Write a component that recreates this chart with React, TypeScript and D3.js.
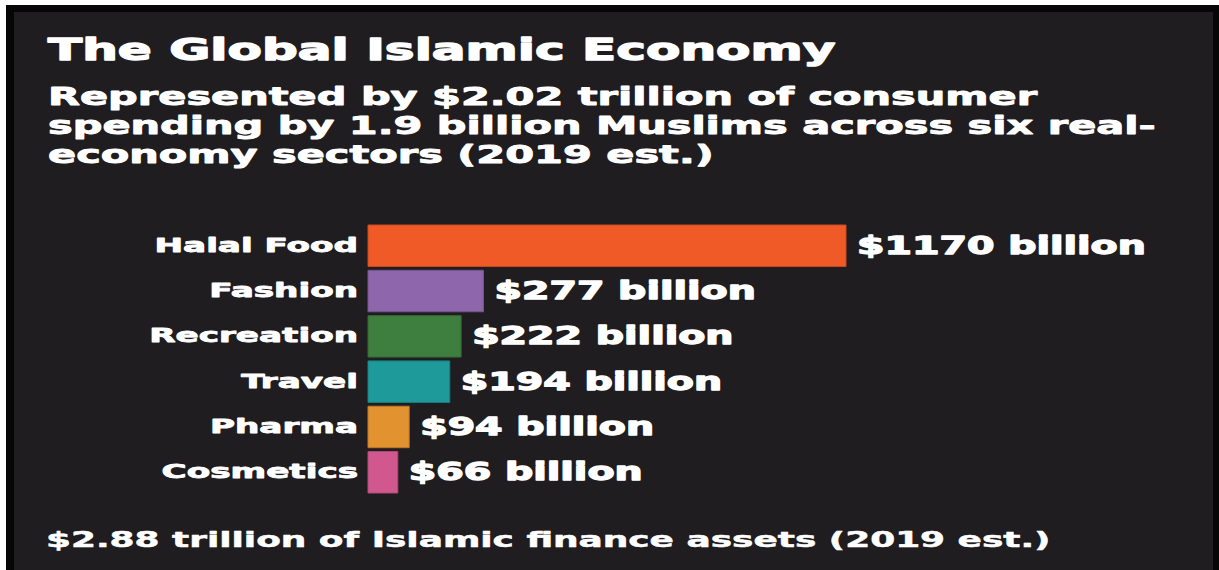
import React from 'react';
import * as d3 from 'd3';

const sectors = ['Halal Food', 'Fashion', 'Recreation', 'Travel', 'Pharma', 'Cosmetics'];
const spendingBillions = [1170, 277, 222, 194, 94, 66];
const sectorColors = ['#f05a27', '#8d66ab', '#3e7e3e', '#1e9a9b', '#e2922f', '#d1588e'];

const titleText = 'The Global Islamic Economy';
const subtitleLines = [
  'Represented by $2.02 trillion of consumer',
  'spending by 1.9 billion Muslims across six real-',
  'economy sectors (2019 est.)',
];
const footerText = '$2.88 trillion of Islamic finance assets (2019 est.)';

const WIDTH = 1219;
const HEIGHT = 570;
const FONT = '"DejaVu Sans", Verdana, sans-serif';
const BG = '#1f1d20';

export default function App() {
  const barLeft = 368;
  const x = d3.scaleLinear().domain([0, 1170]).range([barLeft + 3, 846]);
  const y = d3.scaleBand<string>()
    .domain(sectors)
    .range([225, 493])
    .paddingInner(0.085)
    .paddingOuter(0);

  return (
    <svg
      width={WIDTH}
      height={HEIGHT}
      viewBox={`0 0 ${WIDTH} ${HEIGHT}`}
      style={{ position: 'absolute', left: 0, top: 0, background: '#ffffff' }}
    >
      {/* frame */}
      <rect x={6} y={5} width={WIDTH - 6} height={HEIGHT - 5} fill="#060606" />
      <rect x={14} y={12} width={WIDTH - 20} height={HEIGHT - 12} fill={BG} />

      <g fill="#ffffff" stroke="#ffffff" strokeLinejoin="round" fontFamily={FONT} fontWeight="bold">
        {/* title */}
        <text transform="translate(48,60) scale(1.67,1)" fontSize={30} strokeWidth={1.3}>
          {titleText}
        </text>

        {/* subtitle */}
        {subtitleLines.map((line, i) => (
          <text
            key={line}
            transform={`translate(48,${105 + i * 29}) scale(1.66,1)`}
            fontSize={25}
            strokeWidth={0.9}
          >
            {line}
          </text>
        ))}

        {/* bars */}
        {sectors.map((s, i) => {
          const v = spendingBillions[i];
          const cy = y(s)! + y.bandwidth() / 2;
          const barEnd = x(v);
          const c = sectorColors[i];
          return (
            <g key={s}>
              <rect
                x={barLeft}
                y={y(s)}
                width={barEnd - barLeft}
                height={y.bandwidth()}
                fill={c}
                stroke={d3.color(c)!.darker(0.5).formatHex()}
                strokeWidth={1}
              />
              <text
                transform={`translate(358,${cy + 6}) scale(1.8,1)`}
                fontSize={19}
                textAnchor="end"
                strokeWidth={0.8}
              >
                {s}
              </text>
              <text
                transform={`translate(${barEnd + 11},${cy + 8}) scale(1.58,1)`}
                fontSize={25}
                strokeWidth={1.3}
              >
                {`$${v} billion`}
              </text>
            </g>
          );
        })}

        {/* footer */}
        <text transform="translate(46,547) scale(1.71,1)" fontSize={21} strokeWidth={0.5}>
          {footerText}
        </text>
      </g>
    </svg>
  );
}
